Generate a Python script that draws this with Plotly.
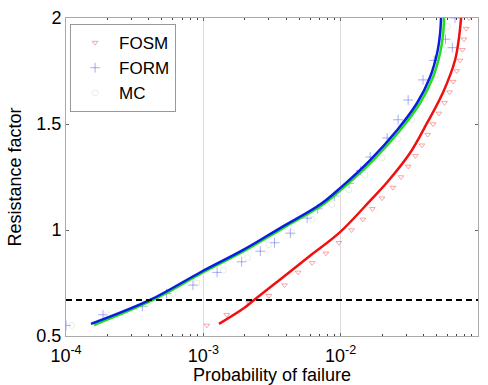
import plotly.graph_objects as go

# ---- curves (probability of failure, resistance factor) ----
fosm_pf = [1.30e-3, 1.98e-3, 2.34e-3, 3.44e-3, 6.08e-3, 9.9e-3, 1.66e-2, 2.18e-2,
           3.20e-2, 4.26e-2, 5.57e-2, 6.81e-2, 7.28e-2, 7.53e-2]
fosm_rf = [0.557, 0.632, 0.670, 0.755, 0.882, 0.990, 1.142, 1.225,
           1.363, 1.505, 1.650, 1.802, 1.910, 2.000]

form_pf = [1.52e-4, 4.09e-4, 9.6e-4, 1.95e-3, 3.62e-3, 7.08e-3, 1.00e-2, 1.64e-2,
           2.58e-2, 3.60e-2, 4.48e-2, 5.04e-2, 5.30e-2, 5.38e-2]
form_rf = [0.557, 0.670, 0.802, 0.906, 1.009, 1.120, 1.200, 1.330,
           1.472, 1.599, 1.722, 1.835, 1.929, 2.000]

mc_pf = [1.60e-4, 4.30e-4, 1.01e-3, 2.05e-3, 3.81e-3, 7.45e-3, 1.05e-2, 1.73e-2,
         2.72e-2, 3.79e-2, 4.71e-2, 5.30e-2, 5.58e-2, 5.66e-2]
mc_rf = [0.552, 0.670, 0.802, 0.906, 1.009, 1.120, 1.200, 1.330,
         1.472, 1.599, 1.722, 1.835, 1.929, 2.000]

# ---- scattered markers ----
fosm_m_pf = [1.06e-3, 1.48e-3, 2.15e-3, 3.0e-3, 3.9e-3, 4.9e-3, 6.2e-3, 7.8e-3, 9.7e-3,
             1.2e-2, 1.45e-2, 1.7e-2, 2.0e-2, 2.4e-2, 2.75e-2, 3.1e-2, 3.5e-2,
             3.9e-2, 4.3e-2, 4.7e-2, 5.2e-2, 5.7e-2, 6.2e-2, 6.6e-2, 7.0e-2,
             7.4e-2, 7.7e-2, 7.9e-2, 8.2e-2, 8.6e-2]
fosm_m_rf = [0.55, 0.60, 0.656, 0.69, 0.74, 0.80, 0.845, 0.89, 0.94,
             1.00, 1.05, 1.10, 1.15, 1.20, 1.25, 1.30, 1.35,
             1.40, 1.45, 1.50, 1.55, 1.60, 1.65, 1.70, 1.75,
             1.80, 1.85, 1.90, 1.95, 2.00]

form_m_pf = [1.0e-4, 1.86e-4, 3.6e-4, 5.4e-4, 8.4e-4, 1.26e-3, 1.9e-3, 2.6e-3, 3.3e-3,
             4.3e-3, 5.7e-3, 6.8e-3, 9.0e-3, 1.15e-2, 1.40e-2, 1.64e-2, 2.18e-2,
             2.62e-2, 3.1e-2, 3.98e-2, 4.8e-2, 5.8e-2, 6.5e-2, 6.8e-2]
form_m_rf = [0.55, 0.60, 0.64, 0.70, 0.74, 0.80, 0.85, 0.90, 0.94,
             0.985, 1.056, 1.10, 1.16, 1.22, 1.28, 1.344, 1.434,
             1.52, 1.613, 1.708, 1.80, 1.90, 1.86, 2.00]

mc_m_pf = [1.1e-4, 2.0e-4, 3.8e-4, 6.0e-4, 9.0e-4, 1.4e-3, 2.1e-3, 3.0e-3, 4.4e-3,
           6.2e-3, 8.6e-3, 1.15e-2, 1.5e-2, 2.0e-2, 2.6e-2, 3.3e-2, 4.1e-2,
           4.9e-2, 5.6e-2, 6.0e-2]
mc_m_rf = [0.55, 0.60, 0.65, 0.70, 0.75, 0.81, 0.87, 0.93, 0.99,
           1.05, 1.12, 1.19, 1.26, 1.34, 1.43, 1.52, 1.62,
           1.73, 1.85, 1.96]

threshold = 0.67

x_tickvals = [1e-4, 1e-3, 1e-2, 1e-1]
x_ticktext = ["10<sup>-4</sup>", "10<sup>-3</sup>", "10<sup>-2</sup>", "10<sup>-1</sup>"]
x_minor = [m * 10.0 ** e for e in (-4, -3, -2) for m in range(2, 10)]
y_tickvals = [0.5, 1, 1.5, 2]
y_ticktext = ["0.5", "1", "1.5", "2"]

fig = go.Figure()

# markers (legend entries)
fig.add_trace(go.Scatter(x=fosm_m_pf, y=fosm_m_rf, mode="markers", name="FOSM",
                         marker=dict(symbol="triangle-down-open", size=5,
                                     color="rgba(240,80,80,0.5)", line=dict(width=1))))
fig.add_trace(go.Scatter(x=form_m_pf, y=form_m_rf, mode="markers", name="FORM",
                         marker=dict(symbol="cross-thin-open", size=7,
                                     color="rgba(90,90,240,0.5)",
                                     line=dict(width=1, color="rgba(90,90,240,0.5)"))))
fig.add_trace(go.Scatter(x=mc_m_pf, y=mc_m_rf, mode="markers", name="MC",
                         marker=dict(symbol="circle-open", size=6,
                                     color="rgba(200,215,200,0.45)", line=dict(width=1))))

# curves
fig.add_trace(go.Scatter(x=mc_pf, y=mc_rf, mode="lines", showlegend=False,
                         line=dict(color="#22dd22", width=2.5, shape="spline")))
fig.add_trace(go.Scatter(x=form_pf, y=form_rf, mode="lines", showlegend=False,
                         line=dict(color="#0a1ee0", width=2.5, shape="spline")))
fig.add_trace(go.Scatter(x=fosm_pf, y=fosm_rf, mode="lines", showlegend=False,
                         line=dict(color="#f01010", width=2.5, shape="spline")))

# threshold line
fig.add_trace(go.Scatter(x=[1e-4, 1e-1], y=[threshold, threshold], mode="lines",
                         showlegend=False,
                         line=dict(color="black", width=2, dash="6px,4px")))

axis_font = dict(family="Liberation Sans, Arial, sans-serif", size=18, color="black")

fig.update_layout(
    width=488, height=385,
    margin=dict(l=66, r=10, t=18, b=49),
    paper_bgcolor="white", plot_bgcolor="white",
    font=axis_font,
    showlegend=True,
    legend=dict(x=0.01, y=0.981, xanchor="left", yanchor="top",
                bgcolor="white", bordercolor="#999", borderwidth=1,
                font=dict(size=17), tracegroupgap=0, itemwidth=38),
    xaxis=dict(type="log", range=[-4, -1], tickvals=x_tickvals, ticktext=x_ticktext,
               showgrid=True, gridcolor="#dddddd", gridwidth=1,
               ticks="inside", ticklen=3, tickcolor="#666",
               minor=dict(tickvals=x_minor, ticks="inside", ticklen=2,
                          tickcolor="#444", showgrid=False),
               showline=True, linecolor="#aaa", linewidth=1, mirror="allticks",
               zeroline=False, tickfont=axis_font, automargin=False,
               ticklabelstandoff=3,
               title=dict(text="Probability of failure", font=axis_font, standoff=0)),
    yaxis=dict(range=[0.5, 2], tickvals=y_tickvals, ticktext=y_ticktext,
               showgrid=False, ticks="inside", ticklen=3, tickcolor="#666",
               showline=True, linecolor="#aaa", linewidth=1, mirror="allticks",
               zeroline=False, tickfont=axis_font, automargin=False,
               title=dict(text="Resistance factor", font=axis_font, standoff=10)),
)

fig.write_html("out.html")
